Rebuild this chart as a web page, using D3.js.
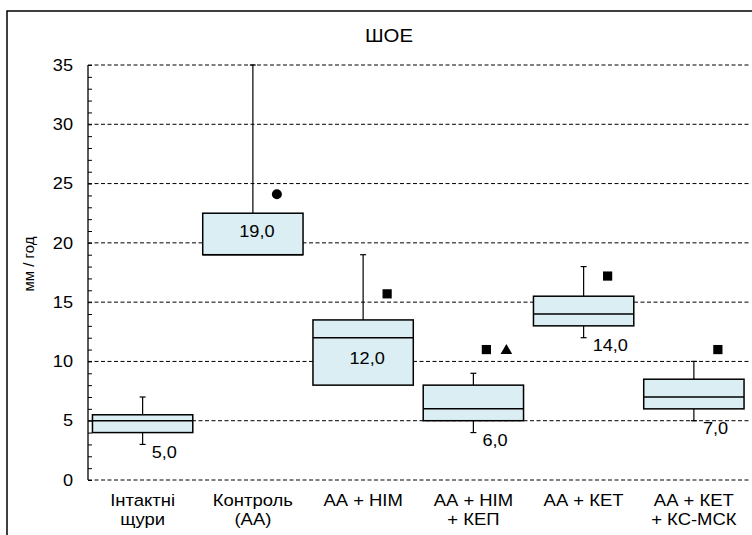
<!DOCTYPE html>
<html><head><meta charset="utf-8">
<script src="https://cdn.jsdelivr.net/npm/d3@7"></script>
<style>
html,body{margin:0;padding:0;background:#fff;}
text{font-family:"Liberation Sans",Arial,sans-serif;fill:#000;}
</style></head>
<body>
<script>
const categories = [["Інтактні","щури"],["Контроль","(АА)"],["АА + НІМ"],["АА + НІМ","+ КЕП"],["АА + КЕТ"],["АА + КЕТ","+ КС-МСК"]];
const whiskerLow  = [3, 19, 8, 4, 12, 5];
const q1          = [4, 19, 8, 5, 13, 6];
const median      = [5, 19, 12, 6, 14, 7];
const q3          = [5.5, 22.5, 13.5, 8, 15.5, 8.5];
const whiskerHigh = [7, 35, 19, 9, 18, 10];
const labelPlacement = ["below","inside","inside","below","below","below"];
const markerCat    = [1, 2, 3, 3, 4, 5];
const markerValue  = [24.1, 15.7, 11, 11, 17.2, 11];
const markerSymbol = ["circle","square","square","triangle","square","square"];
const yTicks = [0,5,10,15,20,25,30,35];
const title = "ШОЕ";
const yTitle = "мм / год";

const W = 752, H = 535;
const SX = 1.1; // slight horizontal stretch of text as in reference
const svg = d3.select("body").append("svg").attr("width", W).attr("height", H);

// outer frame
svg.append("rect").attr("x",7).attr("y",11).attr("width",W+20).attr("height",H+20)
  .attr("fill","none").attr("stroke","#000").attr("stroke-width",1.5);

const x = d3.scaleBand().domain(d3.range(categories.length)).range([87.5, 749]).paddingInner(0.09).paddingOuter(0.045);
const y = d3.scaleLinear().domain([0,35]).range([480, 65]);

function stext(g, tx, ty, str, size, anchor, baseline){
  return g.append("text").attr("transform",`translate(${tx},${ty}) scale(${SX},1)`)
    .attr("text-anchor",anchor||"middle").attr("dominant-baseline",baseline||"auto")
    .style("font-size",size+"px").text(str);
}

// gridlines
svg.append("g").selectAll("line").data(yTicks).join("line")
  .attr("x1",88).attr("x2",749).attr("y1",d=>y(d)).attr("y2",d=>y(d))
  .attr("stroke","#000").attr("stroke-width",1).attr("stroke-dasharray","4,2.5");

// y axis
const yAxis = svg.append("g").attr("transform","translate(88,0)")
  .call(d3.axisRight(y).tickValues(d3.range(0,36,1)).tickSize(4).tickFormat(""));
yAxis.select(".domain").attr("stroke","#000").attr("stroke-width",1.3).attr("d",`M0,${y(0)}V${y(35)}`);
yAxis.selectAll(".tick line").attr("stroke","#000").attr("stroke-width",1);

const tl = svg.append("g");
yTicks.forEach(t => stext(tl, 73, y(t), String(t), 16.5, "end", "central"));

// title
stext(svg, 389, 35, title, 18.5, "middle", "central");
// y title
svg.append("text").attr("transform",`translate(34,264) rotate(-90)`).attr("text-anchor","middle")
  .style("font-size","15px").text(yTitle);

// category labels
const cl = svg.append("g");
categories.forEach((lines,i)=>{
  const cx = x(i)+x.bandwidth()/2;
  lines.forEach((ln,j)=> stext(cl, cx, 506 + j*19, ln, 16.8, "middle", "auto"));
});

// boxes
const boxes = svg.append("g");
categories.forEach((c,i)=>{
  const x0 = x(i), bw = x.bandwidth(), cx = x0+bw/2;
  const g = boxes.append("g");
  if (whiskerHigh[i] > q3[i]) {
    g.append("line").attr("x1",cx).attr("x2",cx).attr("y1",y(q3[i])).attr("y2",y(whiskerHigh[i])).attr("stroke","#000").attr("stroke-width",1.2);
    g.append("line").attr("x1",cx-3).attr("x2",cx+3).attr("y1",y(whiskerHigh[i])).attr("y2",y(whiskerHigh[i])).attr("stroke","#000").attr("stroke-width",1.2);
  }
  if (whiskerLow[i] < q1[i]) {
    g.append("line").attr("x1",cx).attr("x2",cx).attr("y1",y(q1[i])).attr("y2",y(whiskerLow[i])).attr("stroke","#000").attr("stroke-width",1.2);
    g.append("line").attr("x1",cx-3).attr("x2",cx+3).attr("y1",y(whiskerLow[i])).attr("y2",y(whiskerLow[i])).attr("stroke","#000").attr("stroke-width",1.2);
  }
  g.append("rect").attr("x",x0).attr("y",y(q3[i])).attr("width",bw).attr("height",y(q1[i])-y(q3[i]))
    .attr("fill","#DAEEF3").attr("stroke","#000").attr("stroke-width",1.5);
  g.append("line").attr("x1",x0).attr("x2",x0+bw).attr("y1",y(median[i])).attr("y2",y(median[i]))
    .attr("stroke","#000").attr("stroke-width",1.5);
  const lab = d3.format(".1f")(median[i]).replace(".",",");
  if (labelPlacement[i]==="inside") {
    const other = (q3[i]-median[i]) > (median[i]-q1[i]) ? q3[i] : q1[i];
    stext(g, cx+4, (y(median[i])+y(other))/2 - 3, lab, 16.5, "middle", "central");
  } else {
    stext(g, cx+9, y(whiskerLow[i])+8, lab, 16.5, "start", "central");
  }
});

// markers
const mk = svg.append("g");
markerCat.forEach((c,k)=>{
  const same = markerCat.map((v,j)=>j).filter(j=>markerCat[j]===c);
  const idx = same.indexOf(k);
  const cx = x(c)+x.bandwidth()/2;
  const dx = same.length===1 ? 24 : (idx===0 ? 13 : 33);
  const px = cx+dx, py = y(markerValue[k]);
  if (markerSymbol[k]==="circle") {
    mk.append("circle").attr("cx",px).attr("cy",py).attr("r",5).attr("fill","#000");
  } else if (markerSymbol[k]==="square") {
    mk.append("rect").attr("x",px-4.6).attr("y",py-4.6).attr("width",9.2).attr("height",9.2).attr("fill","#000");
  } else {
    mk.append("path").attr("d",`M${px},${py-5.5}L${px+5.8},${py+4.5}L${px-5.8},${py+4.5}Z`).attr("fill","#000");
  }
});
</script>
</body></html>
